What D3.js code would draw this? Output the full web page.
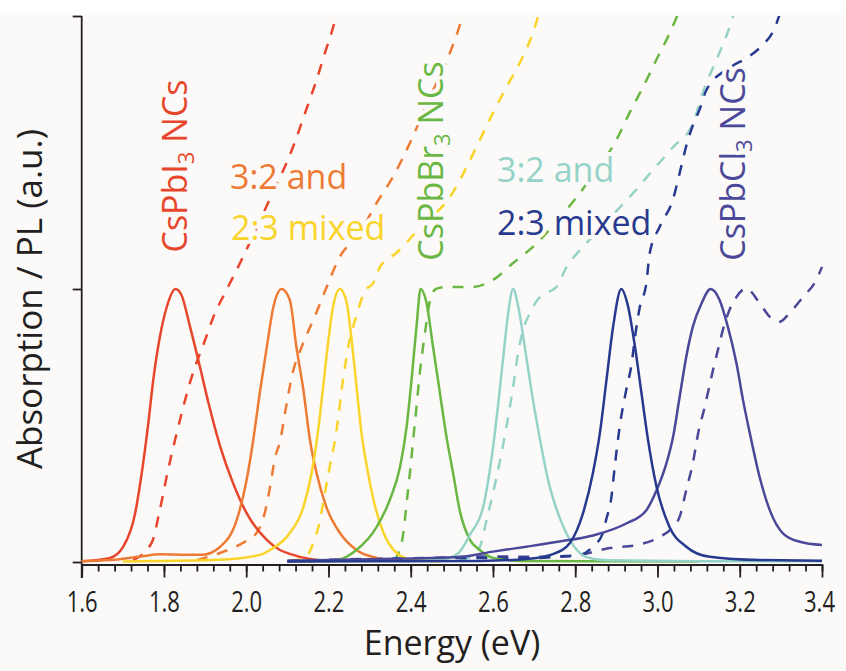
<!DOCTYPE html>
<html lang="en">
<head>
<meta charset="UTF-8">
<title>Absorption / PL of CsPbX3 NCs</title>
<script src="https://cdn.jsdelivr.net/npm/d3@7"></script>
<style>
  html, body { margin: 0; padding: 0; background: #fcfaf8; }
  svg { display: block; font-family: "Open Sans", sans-serif; }
</style>
</head>
<body>
<svg id="chart" width="846" height="671"></svg>
<script>
// ---- data: [energy (eV), normalised intensity] ----
const majorTicks = [1.6, 1.8, 2.0, 2.2, 2.4, 2.6, 2.8, 3.0, 3.2, 3.4];
const tickLabels = ["1.6", "1.8", "2.0", "2.2", "2.4", "2.6", "2.8", "3.0", "3.2", "3.4"];

// PL spectra (solid)
const plI3 = [[1.600,0.003],[1.669,0.015],[1.701,0.056],[1.730,0.179],[1.746,0.326],[1.762,0.509],[1.774,0.667],[1.790,0.824],[1.807,0.935],[1.828,1.0],[1.842,0.98],[1.863,0.864],[1.887,0.718],[1.908,0.584],[1.937,0.422],[1.968,0.289],[2.001,0.179],[2.050,0.081],[2.082,0.044],[2.106,0.030],[2.155,0.011],[2.203,0.003]];
const plIBr32 = [[1.600,0.003],[1.669,0.007],[1.742,0.020],[1.790,0.028],[1.851,0.027],[1.895,0.027],[1.936,0.055],[1.977,0.154],[2.001,0.300],[2.017,0.446],[2.033,0.619],[2.050,0.787],[2.066,0.934],[2.086,1.0],[2.106,0.960],[2.122,0.788],[2.139,0.630],[2.155,0.447],[2.171,0.326],[2.195,0.201],[2.228,0.106],[2.268,0.044],[2.317,0.015],[2.374,0.004]];
const plIBr23 = [[1.700,0.002],[1.919,0.007],[2.033,0.026],[2.058,0.044],[2.106,0.106],[2.139,0.201],[2.159,0.326],[2.175,0.484],[2.187,0.641],[2.199,0.802],[2.211,0.934],[2.228,1.0],[2.244,0.952],[2.256,0.817],[2.268,0.645],[2.280,0.476],[2.293,0.352],[2.309,0.231],[2.333,0.110],[2.366,0.033],[2.406,0.007],[2.471,0.002]];
const plBr3 = [[2.130,0.002],[2.220,0.007],[2.268,0.044],[2.317,0.128],[2.349,0.227],[2.374,0.348],[2.390,0.495],[2.402,0.667],[2.414,0.861],[2.424,1.0],[2.438,0.952],[2.454,0.791],[2.471,0.619],[2.487,0.458],[2.503,0.326],[2.519,0.190],[2.544,0.081],[2.568,0.044],[2.600,0.015],[2.665,0.004],[3.100,0.002]];
const plBrCl32 = [[2.374,0.002],[2.471,0.007],[2.514,0.030],[2.544,0.100],[2.576,0.201],[2.596,0.374],[2.612,0.568],[2.625,0.751],[2.637,0.912],[2.649,1.0],[2.661,0.939],[2.677,0.791],[2.694,0.623],[2.714,0.451],[2.734,0.300],[2.758,0.179],[2.787,0.081],[2.827,0.018],[2.876,0.006],[3.102,0.003],[3.400,0.003]];
const plBrCl23 = [[2.100,0.002],[2.568,0.004],[2.681,0.011],[2.746,0.029],[2.787,0.070],[2.819,0.179],[2.843,0.326],[2.860,0.473],[2.876,0.667],[2.892,0.861],[2.912,1.0],[2.928,0.939],[2.945,0.791],[2.961,0.619],[2.977,0.447],[2.997,0.280],[3.029,0.129],[3.070,0.056],[3.127,0.019],[3.248,0.007],[3.400,0.005]];
const plCl3 = [[2.100,0.005],[2.300,0.010],[2.519,0.018],[2.600,0.038],[2.681,0.056],[2.762,0.075],[2.843,0.097],[2.924,0.141],[2.973,0.190],[2.997,0.260],[3.022,0.363],[3.038,0.459],[3.054,0.606],[3.070,0.752],[3.086,0.862],[3.107,0.947],[3.129,1.0],[3.151,0.960],[3.171,0.862],[3.192,0.728],[3.208,0.593],[3.228,0.447],[3.248,0.313],[3.273,0.190],[3.305,0.105],[3.346,0.074],[3.400,0.062]];

// absorption spectra (dashed)
const absI3 = [[1.725,0.007],[1.770,0.070],[1.790,0.191],[1.810,0.337],[1.831,0.472],[1.847,0.568],[1.863,0.656],[1.879,0.729],[1.900,0.813],[1.920,0.897],[1.952,0.996],[1.985,1.095],[2.053,1.315],[2.114,1.521],[2.143,1.644],[2.171,1.766],[2.191,1.863],[2.216,1.985],[2.223,2.03]];
const absIBr32 = [[1.880,0.007],[1.936,0.033],[1.992,0.070],[2.025,0.106],[2.045,0.179],[2.058,0.275],[2.070,0.381],[2.082,0.440],[2.096,0.560],[2.111,0.680],[2.138,0.800],[2.167,0.900],[2.191,0.990],[2.228,1.119],[2.276,1.205],[2.317,1.315],[2.357,1.411],[2.398,1.535],[2.446,1.700],[2.495,1.864],[2.523,1.985],[2.531,2.03]];
const absIBr23 = [[2.106,0.004],[2.143,0.015],[2.163,0.070],[2.179,0.150],[2.191,0.250],[2.203,0.348],[2.216,0.447],[2.224,0.531],[2.232,0.630],[2.240,0.714],[2.248,0.788],[2.260,0.861],[2.272,0.923],[2.288,0.992],[2.309,1.022],[2.325,1.080],[2.365,1.132],[2.422,1.223],[2.503,1.355],[2.536,1.447],[2.568,1.546],[2.600,1.645],[2.633,1.740],[2.665,1.828],[2.697,1.938],[2.716,2.03]];
const absBr3 = [[2.357,0.007],[2.366,0.020],[2.382,0.106],[2.390,0.216],[2.398,0.326],[2.406,0.447],[2.414,0.568],[2.422,0.692],[2.430,0.788],[2.438,0.875],[2.446,0.952],[2.461,1.000],[2.487,1.007],[2.544,1.007],[2.600,1.033],[2.649,1.095],[2.697,1.154],[2.762,1.260],[2.835,1.400],[2.900,1.546],[2.932,1.645],[2.965,1.740],[2.997,1.839],[3.030,1.938],[3.056,2.03]];
const absBrCl32 = [[2.519,0.007],[2.544,0.018],[2.568,0.055],[2.584,0.150],[2.600,0.253],[2.617,0.370],[2.633,0.498],[2.649,0.641],[2.661,0.766],[2.673,0.850],[2.690,0.912],[2.706,0.956],[2.730,0.985],[2.754,1.007],[2.779,1.081],[2.819,1.154],[2.884,1.260],[2.940,1.350],[2.989,1.436],[3.038,1.520],[3.086,1.606],[3.110,1.718],[3.143,1.839],[3.167,1.925],[3.190,2.03]];
const absBrCl23 = [[2.100,0.004],[2.519,0.015],[2.714,0.015],[2.754,0.020],[2.811,0.026],[2.843,0.056],[2.867,0.106],[2.875,0.154],[2.888,0.238],[2.896,0.348],[2.908,0.495],[2.924,0.630],[2.937,0.725],[2.945,0.820],[2.957,0.934],[2.973,1.022],[2.981,1.130],[3.006,1.230],[3.038,1.330],[3.054,1.425],[3.070,1.524],[3.086,1.600],[3.102,1.656],[3.119,1.729],[3.175,1.810],[3.224,1.853],[3.253,1.890],[3.285,1.956],[3.302,2.03]];
const absCl3 = [[2.100,0.003],[2.374,0.010],[2.568,0.020],[2.762,0.019],[2.810,0.026],[2.884,0.051],[2.949,0.062],[3.006,0.092],[3.038,0.129],[3.054,0.166],[3.070,0.264],[3.086,0.363],[3.100,0.480],[3.113,0.557],[3.135,0.703],[3.147,0.777],[3.159,0.850],[3.175,0.923],[3.192,0.971],[3.216,1.002],[3.248,0.949],[3.273,0.898],[3.297,0.880],[3.321,0.912],[3.354,0.971],[3.386,1.033],[3.400,1.081]];

const colors = {
  red: "#e8462c", orange: "#ee7b35", yellow: "#f9d42a", green: "#6ab744",
  teal: "#95d3c9", navy: "#273a8f", purple: "#4a4899"
};

const series = [
  {data: absI3, color: colors.red, dash: true},
  {data: absIBr32, color: colors.orange, dash: true},
  {data: absIBr23, color: colors.yellow, dash: true},
  {data: absBr3, color: colors.green, dash: true},
  {data: absBrCl32, color: colors.teal, dash: true},
  {data: absCl3, color: colors.purple, dash: true},
  {data: absBrCl23, color: colors.navy, dash: true},
  {data: plI3, color: colors.red},
  {data: plIBr32, color: colors.orange},
  {data: plIBr23, color: colors.yellow},
  {data: plBr3, color: colors.green},
  {data: plBrCl32, color: colors.teal},
  {data: plCl3, color: colors.purple},
  {data: plBrCl23, color: colors.navy}
];

// ---- drawing ----
const svg = d3.select("#chart");
const bg = "#fcfaf8";

svg.append("rect").attr("width", 846).attr("height", 15).attr("fill", "#ffffff");

const x = d3.scaleLinear().domain([1.6, 3.4]).range([81.7, 822]);
const y = d3.scaleLinear().domain([0, 2]).range([562, 16]);

svg.append("defs").append("clipPath").attr("id", "plot")
  .append("rect").attr("x", 78).attr("y", 16).attr("width", 750).attr("height", 552);

// x axis: minor ticks every 0.04, labelled majors every 0.2
const minorTicks = d3.range(1.6, 3.4001, 0.04);
const xg = svg.append("g").attr("transform", "translate(0,564.5)");
xg.call(d3.axisBottom(x).tickValues(minorTicks).tickSize(7).tickSizeOuter(0).tickFormat(""));
const xMajor = svg.append("g").attr("transform", "translate(0,564.5)")
  .call(d3.axisBottom(x).tickValues(majorTicks).tickSize(13).tickSizeOuter(0)
    .tickFormat((d, i) => tickLabels[i]));
xMajor.select(".domain").remove();
svg.selectAll(".tick line").attr("stroke", "#231f20").attr("stroke-width", 1.8);
xg.select(".domain").attr("stroke", "#231f20").attr("stroke-width", 1.8);
xMajor.selectAll("text")
  .attr("y", 47).attr("dy", 0)
  .attr("x", (d, i) => i === majorTicks.length - 1 ? -3 : 0)
  .attr("textLength", 31).attr("lengthAdjust", "spacingAndGlyphs")
  .attr("fill", "#231f20")
  .style("font-family", "'Open Sans', sans-serif")
  .style("font-size", "29px");

// y axis
const yg = svg.append("g").attr("transform", "translate(81.7,0)")
  .call(d3.axisLeft(y).tickValues([0, 1, 2]).tickSize(9).tickSizeOuter(0).tickFormat(""));
yg.select(".domain").remove();
yg.selectAll(".tick line").attr("stroke", "#231f20").attr("stroke-width", 1.8);
svg.append("line").attr("x1", 81.7).attr("x2", 81.7).attr("y1", 16).attr("y2", 578)
  .attr("stroke", "#231f20").attr("stroke-width", 1.8);

// curves
const line = d3.line().x(d => x(d[0])).y(d => y(d[1])).curve(d3.curveMonotoneX);
svg.append("g").attr("clip-path", "url(#plot)")
  .selectAll("path").data(series).join("path")
  .attr("d", d => line(d.data))
  .attr("fill", "none")
  .attr("stroke", d => d.color)
  .attr("stroke-width", 2.5)
  .attr("stroke-linejoin", "round")
  .attr("stroke-dasharray", d => d.dash ? "11,10" : null);

// axis titles
svg.append("text").attr("x", 452).attr("y", 655).attr("text-anchor", "middle")
  .attr("fill", "#231f20").style("font-size", "34px").text("Energy (eV)");
svg.append("text").attr("transform", "translate(42,299) rotate(-90)").attr("text-anchor", "middle")
  .attr("fill", "#231f20").style("font-size", "35px").text("Absorption / PL (a.u.)");

// annotations, with a halo in the background colour over the curves
const labels = svg.append("g")
  .style("font-size", "34px")
  .attr("stroke", bg).attr("stroke-width", 8).attr("stroke-linejoin", "round")
  .attr("paint-order", "stroke");

function rotLabel(cx, cy, color, pre) {
  const t = labels.append("text").attr("transform", `translate(${cx},${cy}) rotate(-90)`)
    .attr("text-anchor", "middle").attr("fill", color);
  t.append("tspan").text(pre);
  t.append("tspan").attr("dy", 7).style("font-size", "22px").text("3");
  t.append("tspan").attr("dy", -7).text(" NCs");
}
rotLabel(187, 166, colors.red, "CsPbI");
rotLabel(443, 161, colors.green, "CsPbBr");
rotLabel(745, 164, colors.purple, "CsPbCl");

labels.append("text").attr("x", 230).attr("y", 189).attr("fill", colors.orange).text("3:2 and");
labels.append("text").attr("x", 231).attr("y", 240).attr("fill", colors.yellow).text("2:3 mixed");
labels.append("text").attr("x", 497).attr("y", 182).attr("fill", colors.teal).text("3:2 and");
labels.append("text").attr("x", 497).attr("y", 235).attr("fill", colors.navy).text("2:3 mixed");
</script>
</body>
</html>
